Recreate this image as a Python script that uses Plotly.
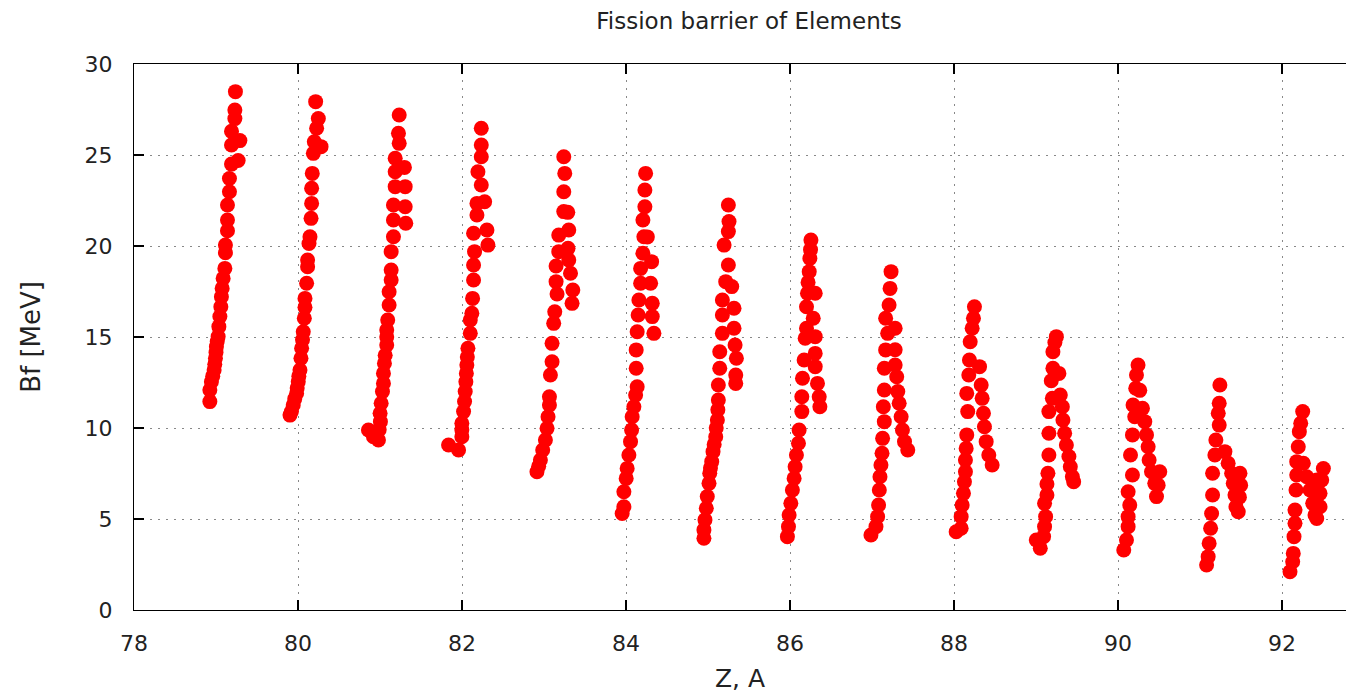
import plotly.graph_objects as go

# ---- data (x = "Z, A" position, y = Bf [MeV]) ----
z79_x = [78.925, 78.925, 78.944, 78.96, 78.977, 78.985, 78.993, 79.0, 79.005, 79.015, 79.026, 79.035, 79.047,
         79.059, 79.066, 79.075, 79.087, 79.108, 79.115, 79.115, 79.14, 79.14, 79.14, 79.164, 79.164, 79.189,
         79.27, 79.189, 79.291, 79.189, 79.23, 79.23, 79.237]
z79_y = [11.45, 12.09, 12.54, 12.85, 13.19, 13.5, 13.83, 14.15, 14.47, 14.75, 15.02, 15.57, 16.12, 16.66, 17.21,
         17.67, 18.22, 18.77, 19.63, 20.05, 20.84, 21.43, 22.25, 22.98, 23.71, 24.5, 24.7, 25.55, 25.79, 26.3,
         27.0, 27.47, 28.48]

z80_x = [79.902, 79.92, 79.942, 79.96, 79.983, 79.99, 80.003, 80.01, 80.024, 80.036, 80.044, 80.055, 80.064,
         80.077, 80.085, 80.085, 80.105, 80.117, 80.117, 80.134, 80.146, 80.159, 80.166, 80.166, 80.174, 80.187,
         80.199, 80.281, 80.227, 80.248, 80.215]
z80_y = [10.71, 10.9, 11.26, 11.6, 11.9, 12.2, 12.54, 12.85, 13.19, 13.83, 14.38, 14.85, 15.29, 16.03, 16.63,
         17.12, 17.95, 18.86, 19.23, 20.14, 20.51, 21.52, 22.34, 23.17, 23.99, 25.09, 25.73, 25.46, 26.47, 27.0,
         27.93]

z81_x = [80.859, 80.92, 80.981, 80.99, 81.001, 81.005, 81.014, 81.03, 81.042, 81.042, 81.054, 81.063, 81.082,
         81.082, 81.082, 81.094, 81.111, 81.111, 81.136, 81.136, 81.136, 81.164, 81.164, 81.314, 81.164, 81.307,
         81.185, 81.307, 81.185, 81.298, 81.185, 81.234, 81.225, 81.234]
z81_y = [9.89, 9.52, 9.34, 9.9, 10.81, 10.35, 11.36, 12.0, 12.45, 13.0, 13.55, 14.0, 14.56, 15.0, 15.38, 15.93,
         16.76, 17.49, 18.13, 18.68, 19.69, 20.51, 21.43, 21.25, 22.25, 22.16, 23.26, 23.26, 24.08, 24.32, 24.82,
         25.64, 26.19, 27.2]

z82_x = [81.836, 81.958, 81.998, 81.998, 81.998, 82.019, 82.031, 82.039, 82.047, 82.053, 82.059, 82.065, 82.072,
         82.101, 82.101, 82.12, 82.129, 82.141, 82.141, 82.153, 82.141, 82.316, 82.304, 82.182, 82.276, 82.182,
         82.235, 82.194, 82.235, 82.235, 82.235]
z82_y = [9.07, 8.79, 9.52, 9.9, 10.26, 10.9, 11.45, 12.0, 12.54, 13.0, 13.46, 13.9, 14.38, 15.2, 15.93, 16.3,
         17.12, 18.13, 18.96, 19.69, 20.7, 20.05, 20.88, 21.7, 22.43, 22.34, 23.35, 24.08, 24.9, 25.55, 26.47]

z83_x = [82.914, 82.935, 82.956, 82.984, 83.017, 83.037, 83.049, 83.066, 83.066, 83.078, 83.098, 83.098, 83.118,
         83.131, 83.159, 83.147, 83.147, 83.18, 83.18, 83.302, 83.293, 83.302, 83.323, 83.351, 83.342, 83.241,
         83.29, 83.241, 83.253, 83.241]
z83_y = [7.6, 7.9, 8.24, 8.79, 9.34, 9.98, 10.62, 11.26, 11.72, 12.91, 13.64, 14.65, 15.75, 16.39, 17.36, 18.04,
         18.9, 19.69, 20.6, 20.88, 19.87, 19.23, 18.5, 17.58, 16.85, 21.89, 21.85, 22.98, 23.99, 24.9]

z84_x = [83.953, 83.974, 83.974, 84.002, 84.014, 84.035, 84.055, 84.068, 84.075, 84.096, 84.117, 84.136, 84.124,
         84.124, 84.136, 84.148, 84.157, 84.178, 84.178, 84.206, 84.218, 84.206, 84.23, 84.23, 84.239, 84.3,
         84.32, 84.32, 84.34, 84.312, 84.26]
z84_y = [5.3, 5.67, 6.5, 7.23, 7.78, 8.52, 9.25, 9.89, 10.62, 11.17, 11.81, 12.27, 13.28, 14.29, 15.29, 16.21,
         17.03, 17.95, 18.77, 19.6, 20.51, 21.43, 22.16, 23.08, 23.99, 17.95, 16.85, 16.12, 15.2, 19.14, 20.5]

z85_x = [84.95, 84.95, 84.963, 84.979, 84.991, 85.012, 85.021, 85.03, 85.045, 85.061, 85.075, 85.094, 85.1,
         85.114, 85.12, 85.126, 85.126, 85.143, 85.143, 85.175, 85.175, 85.175, 85.216, 85.248, 85.196, 85.248,
         85.256, 85.248, 85.289, 85.317, 85.317, 85.33, 85.346, 85.338, 85.338]
z85_y = [3.94, 4.4, 4.95, 5.59, 6.23, 6.96, 7.51, 7.8, 8.15, 8.7, 9.1, 9.52, 10.0, 10.44, 11.0, 11.54, 12.36,
         13.28, 14.19, 15.2, 16.21, 17.03, 18.04, 18.96, 20.05, 20.79, 21.34, 22.25, 17.77, 16.58, 15.48, 14.56,
         13.83, 12.91, 12.45]

z86_x = [85.968, 85.981, 85.989, 86.01, 86.029, 86.05, 86.062, 86.078, 86.103, 86.111, 86.144, 86.144, 86.152,
         86.172, 86.185, 86.201, 86.201, 86.213, 86.22, 86.234, 86.242, 86.25, 86.255, 86.307, 86.283, 86.307,
         86.307, 86.307, 86.335, 86.356, 86.364]
z86_y = [4.03, 4.58, 5.22, 5.86, 6.59, 7.23, 7.87, 8.52, 9.16, 9.89, 10.9, 11.72, 12.73, 13.74, 14.93, 15.48,
         16.66, 17.4, 18.0, 18.59, 19.32, 19.8, 20.33, 17.4, 16.03, 15.02, 14.1, 13.37, 12.45, 11.72, 11.17]

z87_x = [86.987, 87.048, 87.068, 87.08, 87.089, 87.097, 87.109, 87.122, 87.129, 87.15, 87.138, 87.15, 87.15,
         87.166, 87.191, 87.166, 87.208, 87.22, 87.232, 87.282, 87.282, 87.282, 87.301, 87.314, 87.331, 87.355,
         87.371, 87.396, 87.436]
z87_y = [4.12, 4.58, 5.13, 5.77, 6.59, 7.32, 7.97, 8.61, 9.43, 10.35, 11.17, 12.09, 13.28, 14.29, 15.2, 16.03,
         16.76, 17.67, 18.59, 15.48, 14.3, 13.46, 12.82, 12.0, 11.36, 10.62, 9.89, 9.25, 8.79]

z88_x = [88.026, 88.087, 88.087, 88.099, 88.115, 88.127, 88.139, 88.139, 88.148, 88.155, 88.167, 88.155, 88.18,
         88.188, 88.197, 88.221, 88.237, 88.249, 88.311, 88.331, 88.343, 88.359, 88.371, 88.392, 88.424, 88.465]
z88_y = [4.3, 4.49, 5.13, 5.77, 6.41, 7.05, 7.6, 8.24, 8.88, 9.62, 10.9, 11.9, 12.91, 13.74, 14.74, 15.48, 16.03,
         16.66, 13.37, 12.36, 11.63, 10.81, 10.07, 9.25, 8.52, 7.97]

z89_x = [89.052, 89.003, 89.092, 89.104, 89.117, 89.104, 89.133, 89.133, 89.145, 89.157, 89.157, 89.157, 89.199,
         89.186, 89.206, 89.206, 89.248, 89.296, 89.321, 89.328, 89.349, 89.37, 89.401, 89.418, 89.443, 89.459,
         89.279, 89.23]
z89_y = [3.39, 3.85, 4.03, 4.58, 5.13, 5.86, 6.32, 6.92, 7.51, 8.52, 9.71, 10.9, 11.63, 12.6, 13.28, 14.19, 15.02,
         11.81, 11.17, 10.44, 9.71, 9.07, 8.43, 7.87, 7.32, 7.05, 13.0, 14.7]

z90_x = [90.07, 90.103, 90.123, 90.123, 90.143, 90.123, 90.176, 90.152, 90.176, 90.204, 90.183, 90.216, 90.225,
         90.244, 90.298, 90.326, 90.347, 90.367, 90.379, 90.408, 90.448, 90.469, 90.509, 90.489, 90.265]
z90_y = [3.3, 3.85, 4.58, 5.13, 5.77, 6.5, 7.42, 8.52, 9.62, 10.62, 11.26, 12.18, 12.91, 13.46, 11.08, 10.35, 9.62,
         8.97, 8.24, 7.6, 6.96, 6.23, 7.6, 6.86, 12.07]

z91_x = [91.08, 91.099, 91.111, 91.129, 91.141, 91.153, 91.153, 91.181, 91.193, 91.234, 91.222, 91.234, 91.242,
         91.303, 91.343, 91.385, 91.405, 91.426, 91.438, 91.466, 91.487, 91.495, 91.48]
z91_y = [2.47, 2.93, 3.66, 4.49, 5.3, 6.32, 7.51, 8.52, 9.34, 10.16, 10.81, 11.36, 12.36, 8.7, 8.06, 7.51, 6.96,
         6.32, 5.67, 5.4, 7.51, 6.86, 6.2]

z92_x = [92.097, 92.13, 92.137, 92.146, 92.158, 92.158, 92.17, 92.179, 92.179, 92.198, 92.211, 92.228, 92.252,
         92.26, 92.301, 92.342, 92.374, 92.402, 92.423, 92.504, 92.484, 92.463, 92.463, 92.423]
z92_y = [2.1, 2.65, 3.11, 4.03, 4.76, 5.49, 6.59, 7.42, 8.15, 8.97, 9.8, 10.26, 10.9, 8.06, 7.32, 6.59, 5.86, 5.22,
         5.03, 7.77, 7.14, 6.41, 5.67, 7.14]

x_ticks = [78, 80, 82, 84, 86, 88, 90, 92]
y_ticks = [0, 5, 10, 15, 20, 25, 30]

all_x = (z79_x + z80_x + z81_x + z82_x + z83_x + z84_x + z85_x + z86_x + z87_x + z88_x + z89_x + z90_x
         + z91_x + z92_x)
all_y = (z79_y + z80_y + z81_y + z82_y + z83_y + z84_y + z85_y + z86_y + z87_y + z88_y + z89_y + z90_y
         + z91_y + z92_y)

FONT = "DejaVu Sans"

fig = go.Figure()
fig.add_trace(go.Scatter(
    x=all_x, y=all_y, mode="markers",
    marker=dict(color="#ff0000", size=15, line=dict(width=0)),
    showlegend=False, name="Bf",
))

axis_common = dict(
    showline=True, linecolor="#000000", linewidth=1,
    ticks="inside", ticklen=10, tickcolor="#000000", tickwidth=2,
    showgrid=True, gridcolor="#888888", gridwidth=1, griddash="2px,6px",
    zeroline=False,
    tickfont=dict(family=FONT, size=22, color="#222222"),
)

fig.update_layout(
    width=1346, height=693,
    margin=dict(l=134, r=0, t=64, b=83),
    paper_bgcolor="white", plot_bgcolor="white",
    title=dict(text="Fission barrier of Elements", x=(749 - 134) / 1212, xref="paper", xanchor="center",
               y=1 - 21 / 693, yref="container", yanchor="middle",
               font=dict(family=FONT, size=23, color="#222222")),
    xaxis=dict(range=[78, 92.78], tickvals=x_ticks, mirror="ticks",
               ticklabelstandoff=14,
               title=dict(text="Z, A", standoff=18, font=dict(family=FONT, size=25, color="#222222")),
               **axis_common),
    yaxis=dict(range=[0, 30], tickvals=y_ticks, ticklabelstandoff=16,
               title=dict(text="Bf [MeV]", standoff=36, font=dict(family=FONT, size=26, color="#222222")),
               **axis_common),
)

fig.write_html("out.html", config={"displayModeBar": False},
               post_script="document.body.style.margin='0';document.body.style.overflow='hidden';")
